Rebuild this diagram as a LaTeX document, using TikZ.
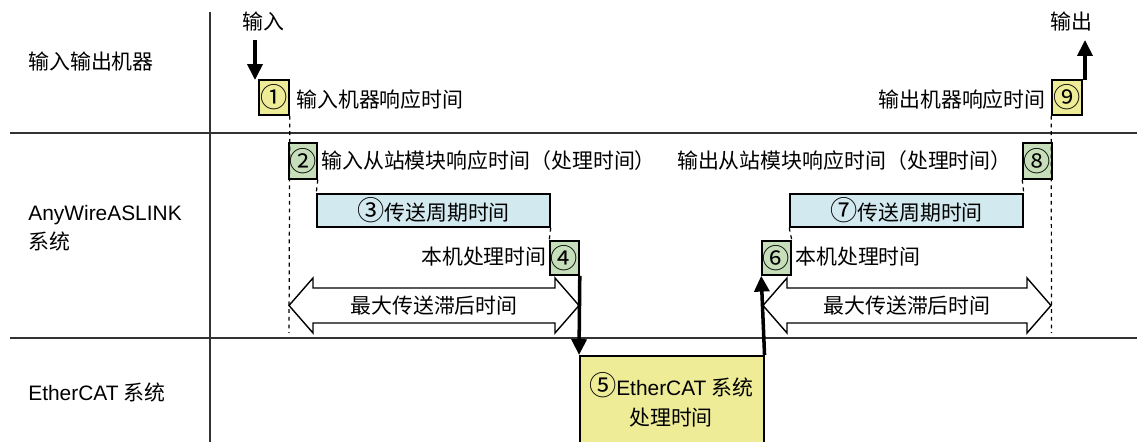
\documentclass[tikz,border=0pt]{standalone}
\usepackage{fontspec}
\setmainfont{Noto Sans CJK SC}
\newfontfamily\lat{Liberation Sans}
\usetikzlibrary{arrows.meta}
\definecolor{boxyellow}{RGB}{238,236,150}
\definecolor{boxgreen}{RGB}{198,223,186}
\definecolor{boxblue}{RGB}{210,233,239}
\definecolor{rulegray}{RGB}{50,50,50}
\newcommand{\cnum}[1]{{\fontsize{15.5}{15.5}\selectfont #1}}
\tikzset{
  every node/.style={font=\fontsize{11.9}{14}\selectfont, inner sep=0pt},
  numbox/.style={draw=black, line width=0.9pt, minimum width=#1, minimum height=0.7cm},
  ybox/.style={numbox=#1, fill=boxyellow},
  gbox/.style={numbox=#1, fill=boxgreen, minimum height=0.7cm},
  bbox/.style={draw=black, line width=0.9pt, fill=boxblue, minimum width=#1, minimum height=0.66cm},
  rule/.style={draw=rulegray, line width=1.3pt},
  guide/.style={draw=black, line width=0.7pt, dash pattern=on 2.2pt off 2.2pt},
  bigarrow/.style={draw=black, line width=2pt, -{Triangle[length=9pt,width=8.5pt]}},
  fatarrow/.style={draw=black, line width=0.8pt, fill=white},
}
\begin{document}
\begin{tikzpicture}[x=0.02cm,y=-0.02cm]
\useasboundingbox (0,0) rectangle (1137,442);
% frame lines
\draw[rule] (210,12) -- (210,442);
\draw[rule] (10,133) -- (1137,133);
\draw[rule] (10,338) -- (1137,338);
% row labels
\node[anchor=west] (r1) at (28,62) {输入输出机器};
\node[anchor=west] (r2a) at (28,215) {\lat AnyWireASLINK};
\node[anchor=west] (r2b) at (28,241) {系统};
\node[anchor=west] (r3) at (28,392) {{\lat EtherCAT} 系统};
% boxes
\node[ybox=0.6cm] (b1) at (274,97.5) {\cnum{①}};
\node[gbox=0.56cm, minimum height=0.72cm] (b2) at (303,161) {\cnum{②}};
\node[bbox=4.66cm] (b3) at (433.5,210.5) {\cnum{③}传送周期时间};
\node[gbox=0.58cm, minimum height=0.68cm] (b4) at (564.5,258) {\cnum{④}};
\node[draw=black, line width=0.9pt, fill=boxyellow, minimum width=3.68cm, minimum height=1.84cm, anchor=north west, align=center] (b5) at (579,355) {};
\node[align=center] (b5t) at (671,400) {\cnum{⑤}{\lat EtherCAT} 系统\\[3pt]处理时间};
\node[gbox=0.58cm, minimum height=0.68cm] (b6) at (776.5,258) {\cnum{⑥}};
\node[bbox=4.66cm] (b7) at (906.5,210.5) {\cnum{⑦}传送周期时间};
\node[gbox=0.58cm, minimum height=0.72cm] (b8) at (1037.5,161) {\cnum{⑧}};
\node[ybox=0.6cm] (b9) at (1067,97.5) {\cnum{⑨}};
% texts
\node[anchor=west] (t1) at (296,100) {输入机器响应时间};
\node[anchor=west] (t2) at (321,161) {输入从站模块响应时间（处理时间）};
\node[anchor=east] (t4) at (547,257) {本机处理时间};
\node[anchor=west] (t6) at (795,257) {本机处理时间};
\node[anchor=east] (t8) at (1012,161) {输出从站模块响应时间（处理时间）};
\node[anchor=east] (t9) at (1046,100) {输出机器响应时间};
\node (in) at (263,22) {输入};
\node (out) at (1071,22) {输出};
% guides
\coordinate (g1) at (289,333);
\coordinate (g9) at (1051.5,333);
\draw[guide] (b1.south east) -- (g1);
\draw[guide] (b2.south east) -- (b3.north west);
\draw[guide] (b3.south east) -- (b4.north west);
\draw[guide] (b7.south west) -- (b6.north east);
\draw[guide] (b8.south west) -- (b7.north east);
\draw[guide] (b9.south west) -- (g9);
% fat double arrows
\draw[fatarrow] (289,305.5) -- (313,278) -- (313,288) -- (555,288) -- (555,278) -- (579,305.5) -- (555,333) -- (555,323) -- (313,323) -- (313,333) -- cycle;
\node (m1) at (434,305.5) {最大传送滞后时间};
\draw[fatarrow] (763,305.5) -- (787,278) -- (787,288) -- (1027,288) -- (1027,278) -- (1051,305.5) -- (1027,333) -- (1027,323) -- (787,323) -- (787,333) -- cycle;
\node (m2) at (907,305.5) {最大传送滞后时间};
% thick arrows
\coordinate (ia) at (255,40);
\coordinate (ib) at (255,80);
\draw[bigarrow] (ia) -- (ib);
\coordinate (oa) at (1085,80);
\coordinate (ob) at (1085,40);
\draw[bigarrow] (oa) -- (ob);
\draw[bigarrow] (b4.south east) -- (b5.north west);
\draw[bigarrow] (b5.north east) -- (b6.south west);
\end{tikzpicture}
\end{document}
